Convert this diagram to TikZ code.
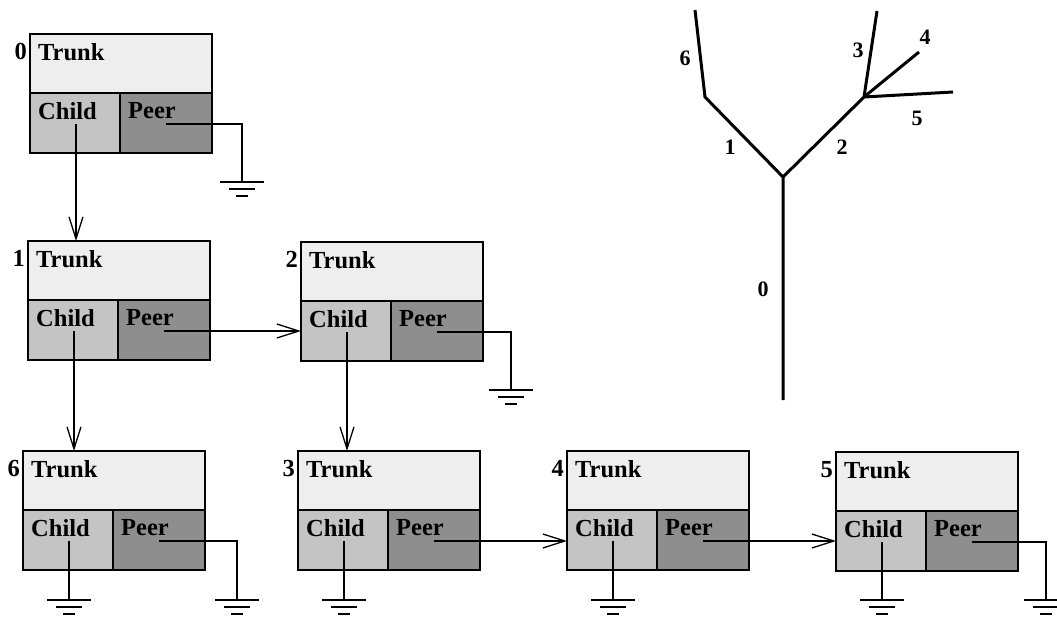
\documentclass[tikz,border=0pt]{standalone}
\usepackage{fontspec}
\setmainfont{Liberation Serif}
\usetikzlibrary{arrows.meta,calc}
\definecolor{trunkcol}{HTML}{EEEEEE}
\definecolor{childcol}{HTML}{C4C4C4}
\definecolor{peercol}{HTML}{8E8E8E}
\tikzset{
  cell/.style={draw, line width=1.6pt, inner sep=0pt, outer sep=0pt, anchor=north west},
  trunkcell/.style={cell, fill=trunkcol, minimum width=182pt, minimum height=59pt},
  childcell/.style={cell, fill=childcol, minimum width=90pt, minimum height=60pt},
  peercell/.style={cell, fill=peercol, minimum width=92pt, minimum height=60pt},
  intext/.style={anchor=north west, inner sep=0pt, xshift=8pt, yshift=-9pt},
  numtext/.style={anchor=north east, inner sep=0pt, xshift=-3pt, yshift=-9pt},
  conn/.style={line width=1.3pt},
  arr/.style={conn, -{Straight Barb[length=22pt, width=14pt, line width=1.3pt]}},
  treeline/.style={line width=3pt},
  treelabel/.style={font=\fontsize{22}{24}\selectfont\bfseries, inner sep=0pt},
  gnd/.pic={\draw[line width=1.3pt] (-22,0) -- (22,0) (-13,7) -- (13,7) (-6,14) -- (6,14);}
}
\newcommand\rsbox[4]{%
  \node[trunkcell, label={[intext]north west:Trunk}, label={[numtext]north west:#2}] (t#1) at (#3,#4) {};
  \node[childcell, label={[intext]north west:Child}] (c#1) at (t#1.south west) {};
  \node[peercell, label={[intext]north west:Peer}] (p#1) at (c#1.north east) {};
  \coordinate (cs#1) at ($(c#1.north west)+(46,31)$);
  \coordinate (ps#1) at ($(p#1.north west)+(46,31)$);
}
\begin{document}
\begin{tikzpicture}[x=1pt, y=-1pt, font=\fontsize{24.5}{26}\selectfont\bfseries]
\useasboundingbox (0,0) rectangle (1057,616);
\fill[white] (0,0) rectangle (1057,616);
% boxes
\rsbox{0}{0}{30}{34}
\rsbox{1}{1}{28}{241}
\rsbox{2}{2}{301}{242}
\rsbox{6}{6}{23}{451}
\rsbox{3}{3}{298}{451}
\rsbox{4}{4}{567}{451}
\rsbox{5}{5}{836}{452}
% ground coordinates
\coordinate (g0) at (242,182);
\coordinate (g2) at (511,390);
\coordinate (g6c) at (cs6 |- 0,600);
\coordinate (g6p) at (237,600);
\coordinate (g3c) at (cs3 |- 0,600);
\coordinate (g4c) at (cs4 |- 0,600);
\coordinate (g5c) at (cs5 |- 0,600);
\coordinate (g5p) at (1046,600);
% connectors
\draw[arr] (cs0) -- (cs0 |- t1.north);
\draw[conn] (ps0) -| (g0);
\draw[arr] (cs1) -- (cs1 |- t6.north);
\draw[arr] (ps1) -- (ps1 -| c2.west);
\draw[arr] (cs2) -- (cs2 |- t3.north);
\draw[conn] (ps2) -| (g2);
\draw[conn] (cs6) -- (g6c);
\draw[conn] (ps6) -| (g6p);
\draw[conn] (cs3) -- (g3c);
\draw[arr] (ps3) -- (ps3 -| c4.west);
\draw[conn] (cs4) -- (g4c);
\draw[arr] (ps4) -- (ps4 -| c5.west);
\draw[conn] (cs5) -- (g5c);
\draw[conn] (ps5) -| (g5p);
\foreach \g in {g0,g2,g6c,g6p,g3c,g4c,g5c,g5p} \pic at (\g) {gnd};
% tree
\coordinate (r0) at (783,400);
\coordinate (j0) at (783,177);
\coordinate (j1) at (705,97);
\coordinate (e6) at (695,10);
\coordinate (j2) at (864,97);
\coordinate (e3) at (877,11);
\coordinate (e4) at (919,52);
\coordinate (e5) at (953,92);
\draw[treeline] (r0) -- (j0) -- (j1) -- (e6);
\draw[treeline] (j0) -- (j2) -- (e3);
\draw[treeline] (j2) -- (e4);
\draw[treeline] (j2) -- (e5);
\node[treelabel] (l0) at (763,289) {0};
\node[treelabel] (l1) at (730,147) {1};
\node[treelabel] (l2) at (842,147) {2};
\node[treelabel] (l3) at (858,50) {3};
\node[treelabel] (l4) at (925,37) {4};
\node[treelabel] (l5) at (917,118) {5};
\node[treelabel] (l6) at (685,58) {6};
\end{tikzpicture}
\end{document}
